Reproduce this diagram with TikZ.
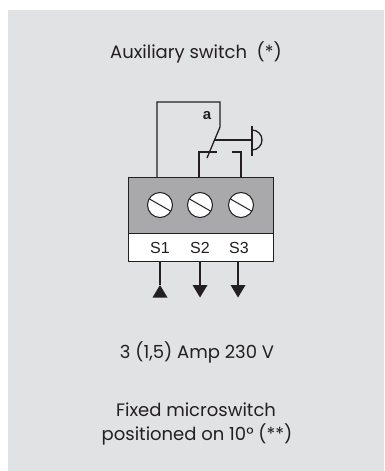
\documentclass[tikz,border=0pt]{standalone}
\usepackage{fontspec}
\setmainfont{Poppins}
\newfontfamily\arialfont{Liberation Sans}
\usetikzlibrary{positioning, calc}
\definecolor{panelgray}{HTML}{E1E2E4}
\definecolor{blockgray}{HTML}{A9A9AB}
\definecolor{ink}{HTML}{231F20}
\tikzstyle{wire} = [draw=ink, line width=1.3pt]
\tikzstyle{caption} = [font=\fontsize{18}{20}\selectfont, text=ink, inner sep=0pt]
\tikzstyle{term} = [font=\arialfont\fontsize{16}{18}\selectfont, text=ink, inner sep=0pt]
\tikzstyle{screw} = [circle, draw=ink, line width=1pt, fill=white, minimum size=25pt, inner sep=0pt]

\begin{document}
\begin{tikzpicture}[x=1pt, y=-1pt]
  % fond
  \fill[white] (0,0) rectangle (384,471);
  \fill[panelgray] (8,10) rectangle (384,471);
  \useasboundingbox (0,0) rectangle (384,471);

  % titre
  \node[caption] (title) at (196,52) {Auxiliary switch\ \ (*)};

  % bornier
  \fill[blockgray] (128,177) rectangle (273,233);
  \fill[white] (128,233) rectangle (273,261);
  \draw[draw=ink, line width=1pt] (128,177) rectangle (273,261);
  \draw[draw=ink, line width=1pt] (128,233) -- (273,233);
  \foreach \x/\n in {160/1, 200/2, 241/3} {
    \node[screw] (screw\n) at (\x,205) {};
    \draw[draw=ink, line width=1pt] ($(screw\n.center)+(-10.5,-6)$) -- ($(screw\n.center)+(10.5,6)$);
  }
  \node[term] (S1) at (160,248) {S1};
  \node[term] (S2) at (200,248) {S2};
  \node[term] (S3) at (239,248) {S3};

  % contact
  \coordinate (w1) at (157,177);
  \coordinate (w1top) at (157,102);
  \coordinate (bladetop) at (220,102);
  \coordinate (pivot) at (220,127);
  \coordinate (bladeend) at (207,158);
  \coordinate (blademid) at (214.5,140);
  \coordinate (btn) at (252,140);
  \draw[wire] (w1) -- (w1top) -- (bladetop) -- (pivot) -- (bladeend);
  \draw[wire] (blademid) -- (btn);
  \draw[wire] ($(btn)+(0,-14.5)$) -- ($(btn)+(0,15.5)$);
  \draw[wire] ($(btn)+(0,-10)$) arc[start angle=-90, end angle=90, radius=10];
  \node[font=\arialfont\bfseries\fontsize{15}{17}\selectfont, text=ink, inner sep=0pt] (a) at (207,116) {a};

  \coordinate (w2) at (199,177);
  \coordinate (w2top) at (199,152);
  \coordinate (c2) at (217,152);
  \draw[wire] (w2) -- (w2top) -- (c2);
  \coordinate (w3) at (241,177);
  \coordinate (w3top) at (241,152);
  \coordinate (c3) at (232,152);
  \draw[wire] (w3) -- (w3top) -- (c3);

  % fleches
  \coordinate (o1) at (160,261);
  \coordinate (e1) at (160,285);
  \coordinate (o2) at (200,261);
  \coordinate (e2) at (200,285);
  \coordinate (o3) at (238,261);
  \coordinate (e3) at (238,285);
  \draw[wire] (o1) -- (e1);
  \fill[ink] (e1) -- ++(-7.5,12.5) -- ++(15,0) -- cycle;
  \draw[wire] (o2) -- (e2);
  \fill[ink] ($(e2)+(-7.5,0)$) -- ++(15,0) -- ++(-7.5,12.5) -- cycle;
  \draw[wire] (o3) -- (e3);
  \fill[ink] ($(e3)+(-7.5,0)$) -- ++(15,0) -- ++(-7.5,12.5) -- cycle;

  % textes du bas
  \node[caption] (amp) at (197,352) {3 (1,5) Amp 230 V};
  \node[caption] (fixed) at (196,410) {Fixed microswitch};
  \node[caption] (pos) at (197,434) {positioned on 10° (**)};
\end{tikzpicture}
\end{document}
